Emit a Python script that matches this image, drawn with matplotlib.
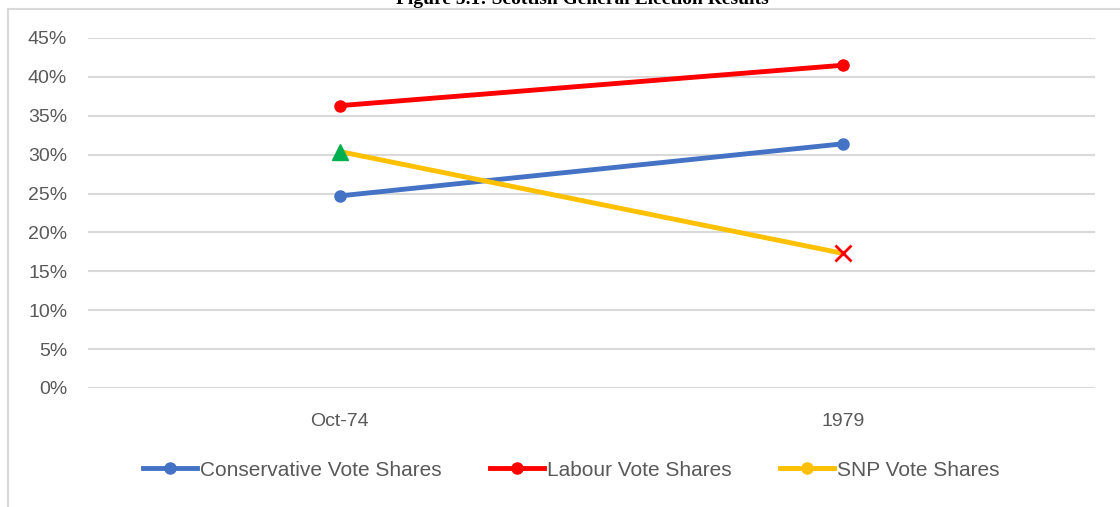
import matplotlib.pyplot as plt
from matplotlib.lines import Line2D
from matplotlib.patches import Rectangle
from matplotlib.ticker import PercentFormatter

# Eleições: categorias e percentuais de voto
anos = ['Oct-74', '1979']
conservador = [0.247, 0.314]
trabalhista = [0.363, 0.415]
snp = [0.304, 0.173]

azul = '#4472C4'
vermelho = '#FF0000'
amarelo = '#FFC000'
verde = '#00B050'
cinza = '#595959'

plt.rcParams['font.family'] = ['Liberation Sans', 'DejaVu Sans']

fig = plt.figure(figsize=(11.2, 5.07), dpi=100)
ax = fig.add_axes([88 / 1120, 1 - 388 / 507, 1007 / 1120, 350 / 507])

x = range(len(anos))
ax.plot(x, conservador, color=azul, lw=3.5, marker='o', ms=8, zorder=3)
ax.plot(x, trabalhista, color=vermelho, lw=3.5, marker='o', ms=8, zorder=3)
ax.plot(x, snp, color=amarelo, lw=3.5, zorder=3)

# marcadores especiais do SNP (triângulo verde e X vermelho)
ax.plot(x[0], snp[0], marker='^', color=verde, ms=12, ls='none', zorder=4)
ax.plot(x[1], snp[1], marker='x', color=vermelho, ms=12, mew=2, ls='none', zorder=4)

ax.set_xlim(-0.5, 1.5)
ax.set_ylim(0, 0.45)
ax.set_yticks([i * 0.05 for i in range(10)])
ax.yaxis.set_major_formatter(PercentFormatter(1.0, decimals=0))
ax.set_xticks(list(x))
ax.set_xticklabels(anos)
ax.tick_params(length=0, labelsize=14, labelcolor=cinza)
ax.tick_params(axis='y', pad=15)
ax.tick_params(axis='x', pad=18)
ax.grid(axis='y', color='#D9D9D9', lw=1.5)
ax.set_axisbelow(True)
for s in ax.spines.values():
    s.set_visible(False)

# legenda embaixo
rotulos = ['Conservative Vote Shares', 'Labour Vote Shares', 'SNP Vote Shares']
cores = [azul, vermelho, amarelo]
alcas = [Line2D([], [], color=c, lw=3.5, marker='o', ms=8) for c in cores]
leg = fig.legend(alcas, rotulos, loc='center', bbox_to_anchor=(0.51, 1 - 470 / 507), ncol=3,
                 frameon=False, fontsize=15, handlelength=2.6, columnspacing=2.3, handletextpad=0.15)
for t in leg.get_texts():
    t.set_color(cinza)

# borda da área do gráfico
fig.patches.append(Rectangle((8 / 1120, -0.1), 1.2, 1 - 9 / 507 + 0.1, transform=fig.transFigure,
                             fill=False, edgecolor='#D9D9D9', lw=1.5))

# título cortado no topo
fig.text(0.52, 1.0, 'Figure 5.1: Scottish General Election Results', ha='center', va='center',
         fontsize=14, fontweight='bold', family='Liberation Serif')

fig.savefig('out.png', dpi=100)
